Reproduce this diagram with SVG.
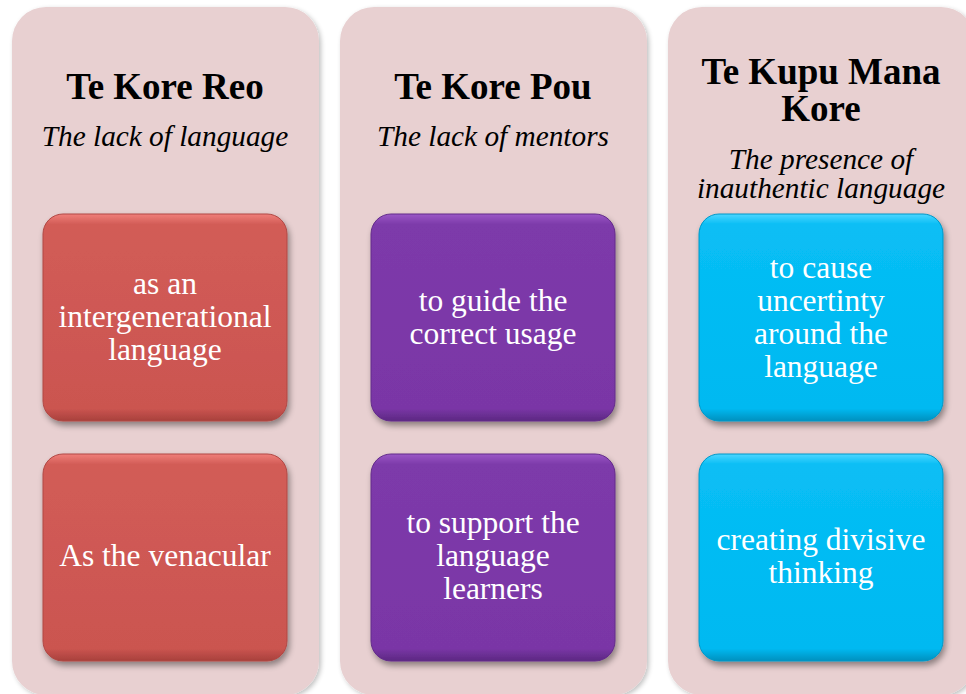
<svg xmlns="http://www.w3.org/2000/svg" width="966" height="694" viewBox="0 0 966 694">
<defs>
<filter id="psh" x="-10%" y="-10%" width="120%" height="120%">
<feGaussianBlur in="SourceAlpha" stdDeviation="2.5"/>
<feOffset dx="2" dy="2" result="b"/>
<feComponentTransfer><feFuncA type="linear" slope="0.25"/></feComponentTransfer>
<feMerge><feMergeNode/><feMergeNode in="SourceGraphic"/></feMerge>
</filter>
<filter id="bsh" x="-10%" y="-10%" width="125%" height="125%">
<feGaussianBlur in="SourceAlpha" stdDeviation="3"/>
<feOffset dx="2" dy="4" result="b"/>
<feComponentTransfer><feFuncA type="linear" slope="0.4"/></feComponentTransfer>
<feMerge><feMergeNode/><feMergeNode in="SourceGraphic"/></feMerge>
</filter>
<linearGradient id="gr" x1="0" y1="0" x2="0" y2="1">
<stop offset="0" stop-color="#F07F7A"/><stop offset="0.05" stop-color="#D25C57"/><stop offset="0.94" stop-color="#CB5550"/><stop offset="1" stop-color="#A8403C"/>
</linearGradient>
<linearGradient id="gp" x1="0" y1="0" x2="0" y2="1">
<stop offset="0" stop-color="#9A58C6"/><stop offset="0.05" stop-color="#7D3AAA"/><stop offset="0.94" stop-color="#7A36A6"/><stop offset="1" stop-color="#5C2882"/>
</linearGradient>
<linearGradient id="gc" x1="0" y1="0" x2="0" y2="1">
<stop offset="0" stop-color="#4CD6FF"/><stop offset="0.05" stop-color="#08BEF5"/><stop offset="0.94" stop-color="#00B9F1"/><stop offset="1" stop-color="#0090BE"/>
</linearGradient>
</defs>
<style>
.panel{fill:#E8D0D1;}
.ttl{font-family:"Liberation Serif","Times New Roman",serif;font-weight:bold;font-size:37px;fill:#000;text-anchor:middle;}
.sub{font-family:"Liberation Serif","Times New Roman",serif;font-style:italic;font-size:29.3px;fill:#000;text-anchor:middle;}
.bt{font-family:"Liberation Serif","Times New Roman",serif;font-size:31.5px;fill:#fff;text-anchor:middle;}
.box{stroke-width:1;}
</style>
<rect width="966" height="694" fill="#fff"/>
<g id="col1">
<rect class="panel" x="12" y="7" width="307" height="688" rx="34" filter="url(#psh)"/>
<text class="ttl" x="165" y="99">Te Kore Reo</text>
<text class="sub" x="165" y="146">The lack of language</text>
</g>
<g id="col2">
<rect class="panel" x="340" y="7" width="307" height="688" rx="34" filter="url(#psh)"/>
<text class="ttl" x="493" y="99">Te Kore Pou</text>
<text class="sub" x="493" y="146">The lack of mentors</text>
</g>
<g id="col3">
<rect class="panel" x="668" y="7" width="307" height="688" rx="34" filter="url(#psh)"/>
<text class="ttl" x="821" y="84">Te Kupu Mana</text>
<text class="ttl" x="821" y="121">Kore</text>
<text class="sub" x="821" y="169">The presence of</text>
<text class="sub" x="821" y="198">inauthentic language</text>
</g>
<g id="box1">
<rect class="box" x="43" y="214" width="244" height="207" rx="20" fill="url(#gr)" stroke="#B04844" filter="url(#bsh)"/>
<text class="bt" x="165" y="294">as an</text>
<text class="bt" x="165" y="327">intergenerational</text>
<text class="bt" x="165" y="360">language</text>
</g>
<g id="box2">
<rect class="box" x="43" y="454" width="244" height="207" rx="20" fill="url(#gr)" stroke="#B04844" filter="url(#bsh)"/>
<text class="bt" x="165" y="566">As the venacular</text>
</g>
<g id="box3">
<rect class="box" x="371" y="214" width="244" height="207" rx="20" fill="url(#gp)" stroke="#632C8A" filter="url(#bsh)"/>
<text class="bt" x="493" y="311">to guide the</text>
<text class="bt" x="493" y="344">correct usage</text>
</g>
<g id="box4">
<rect class="box" x="371" y="454" width="244" height="207" rx="20" fill="url(#gp)" stroke="#632C8A" filter="url(#bsh)"/>
<text class="bt" x="493" y="533">to support the</text>
<text class="bt" x="493" y="566">language</text>
<text class="bt" x="493" y="599">learners</text>
</g>
<g id="box5">
<rect class="box" x="699" y="214" width="244" height="207" rx="20" fill="url(#gc)" stroke="#0098C8" filter="url(#bsh)"/>
<text class="bt" x="821" y="278">to cause</text>
<text class="bt" x="821" y="311">uncertinty</text>
<text class="bt" x="821" y="344">around the</text>
<text class="bt" x="821" y="377">language</text>
</g>
<g id="box6">
<rect class="box" x="699" y="454" width="244" height="207" rx="20" fill="url(#gc)" stroke="#0098C8" filter="url(#bsh)"/>
<text class="bt" x="821" y="550">creating divisive</text>
<text class="bt" x="821" y="583">thinking</text>
</g>
<g id="connectors"/>
</svg>
